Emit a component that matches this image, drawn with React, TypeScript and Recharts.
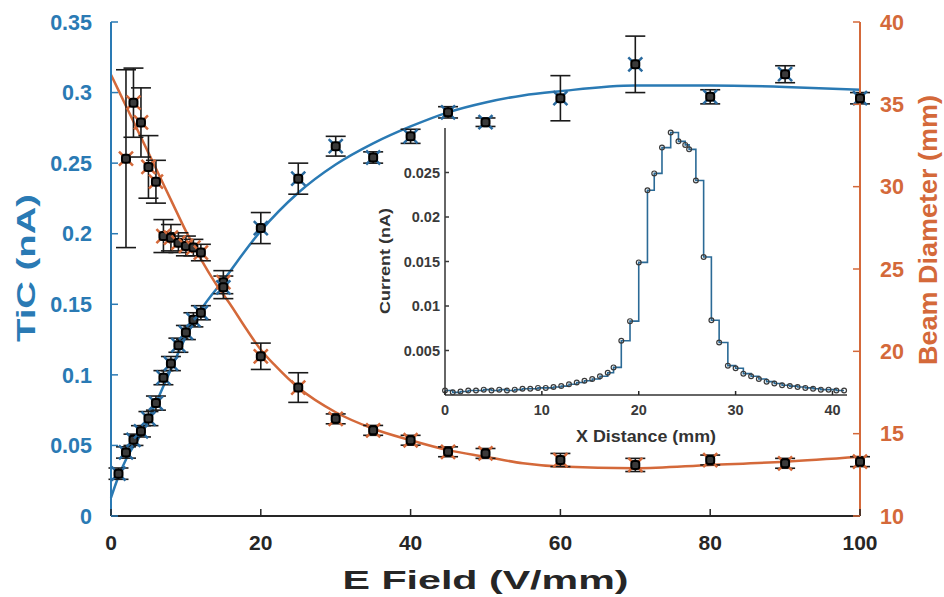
import { ComposedChart, ErrorBar, Line, Scatter, XAxis, YAxis } from "recharts";

const BLUE = "#2a7ab4";
const ORANGE = "#d4693a";
const INK = "#262626";
const FONT = '"Liberation Sans", Arial, sans-serif';

// main chart: TiC current vs E field (left axis)
const ticX = [1, 2, 3, 4, 5, 6, 7, 8, 9, 10, 11, 12, 15, 20, 25, 30, 35, 40, 45, 50, 60, 70, 80, 90, 100];
const ticVal = [0.03, 0.045, 0.054, 0.06, 0.069, 0.08, 0.098, 0.108, 0.121, 0.13, 0.139, 0.144, 0.162, 0.204, 0.239, 0.262, 0.254, 0.269, 0.286, 0.279, 0.296, 0.32, 0.297, 0.313, 0.296];
const ticErr = [0.004, 0.004, 0.004, 0.004, 0.005, 0.005, 0.005, 0.005, 0.005, 0.005, 0.005, 0.005, 0.008, 0.011, 0.011, 0.007, 0.004, 0.005, 0.004, 0.003, 0.016, 0.02, 0.005, 0.006, 0.004];
const ticFitX = [0, 1, 2, 4, 6, 8, 10, 12, 15, 20, 25, 30, 35, 40, 45, 50, 55, 60, 70, 80, 90, 100];
const ticFitVal = [0.013, 0.028, 0.04, 0.058, 0.08, 0.104, 0.127, 0.146, 0.167, 0.202, 0.229, 0.249, 0.264, 0.276, 0.286, 0.293, 0.298, 0.301, 0.305, 0.305, 0.304, 0.302];

// beam diameter vs E field (right axis)
const beamX = [2, 3, 4, 5, 6, 7, 8, 9, 10, 11, 12, 15, 20, 25, 30, 35, 40, 45, 50, 60, 70, 80, 90, 100];
const beamVal = [31.7, 35.1, 33.9, 31.2, 30.3, 27.0, 26.9, 26.6, 26.4, 26.3, 26.0, 24.2, 19.7, 17.8, 15.9, 15.2, 14.6, 13.9, 13.8, 13.4, 13.1, 13.4, 13.2, 13.3];
const beamErr = [5.4, 2.1, 2.1, 1.9, 1.3, 1.0, 0.8, 0.6, 0.6, 0.5, 0.5, 0.7, 0.8, 0.9, 0.3, 0.3, 0.3, 0.3, 0.3, 0.4, 0.4, 0.3, 0.3, 0.3];
const beamFitX = [0, 2, 4, 6, 8, 10, 12, 14, 16, 18, 20, 22, 25, 30, 35, 40, 45, 50, 55, 60, 70, 80, 90, 100];
const beamFitVal = [36.8, 34.9, 33.0, 31.1, 29.2, 27.3, 25.6, 24.1, 22.8, 21.4, 20.1, 19.1, 17.8, 16.3, 15.3, 14.6, 14.0, 13.6, 13.2, 13.0, 12.9, 13.1, 13.3, 13.6];

// inset: current profile along X
const profX = [0, 0.8, 1.6, 2.4, 3.2, 4.0, 4.8, 5.6, 6.4, 7.2, 8.0, 8.8, 9.6, 10.4, 11.2, 12.0, 12.8, 13.6, 14.4, 15.2, 16.0, 16.8, 17.4, 18.2, 19.1, 20.0, 20.9, 21.6, 22.4, 23.3, 24.1, 24.8, 25.2, 25.9, 26.7, 27.5, 28.3, 29.2, 30.0, 30.8, 31.6, 32.4, 33.2, 34.0, 34.8, 35.6, 36.4, 37.2, 38.0, 38.8, 39.6, 40.4, 41.2];
const profVal = [0.0005, 0.0003, 0.0004, 0.0005, 0.0005, 0.0006, 0.0005, 0.0006, 0.0005, 0.0006, 0.0007, 0.0007, 0.0008, 0.0008, 0.0009, 0.001, 0.0012, 0.0014, 0.0016, 0.0018, 0.0021, 0.0025, 0.0031, 0.0061, 0.0083, 0.0149, 0.023, 0.0249, 0.0278, 0.0295, 0.0285, 0.0281, 0.0276, 0.0241, 0.0155, 0.0084, 0.0059, 0.0033, 0.003, 0.0024, 0.0021, 0.0018, 0.0015, 0.0013, 0.0011, 0.001, 0.0009, 0.0008, 0.0007, 0.0006, 0.0006, 0.0005, 0.0005];

const xTicks = [0, 20, 40, 60, 80, 100];
const ticTicks = [0, 0.05, 0.1, 0.15, 0.2, 0.25, 0.3, 0.35];
const beamTicks = [10, 15, 20, 25, 30, 35, 40];
const profXTicks = [0, 10, 20, 30, 40];
const profYTicks = [0.005, 0.01, 0.015, 0.02, 0.025];

const zip = (xs: number[], ys: number[], es?: number[]) =>
  xs.map((x, i) => ({ x, y: ys[i], err: es ? es[i] : 0 }));

const ticData = zip(ticX, ticVal, ticErr);
const beamData = zip(beamX, beamVal, beamErr);
const ticFit = zip(ticFitX, ticFitVal);
const beamFit = zip(beamFitX, beamFitVal);
const profData = zip(profX, profVal);

function Mark({ cx, cy, color }: any) {
  if (cx == null || cy == null) return null;
  const s = 7;
  return (
    <g>
      <path
        d={`M${cx - s},${cy - s}L${cx + s},${cy + s}M${cx - s},${cy + s}L${cx + s},${cy - s}`}
        stroke={color}
        strokeWidth={2.5}
      />
      <rect x={cx - 4} y={cy - 4} width={8} height={8} rx={2.5} fill="#3a3a3a" stroke="#000" strokeWidth={2} />
    </g>
  );
}

// ticks drawn inward, MATLAB style
const makeTick =
  (side: "left" | "right" | "bottom", color: string, size: number, margin: number, len: number, drop = 1.35) =>
  (props: any) => {
    const { x, y, payload } = props;
    if (side === "left") {
      const ax = x + margin;
      return (
        <g>
          <line x1={ax} x2={ax + len} y1={y} y2={y} stroke={color} strokeWidth={1.5} />
          <text x={x} y={y} dy="0.36em" textAnchor="end" fill={color} fontSize={size} fontWeight="bold" fontFamily={FONT}>
            {payload.value}
          </text>
        </g>
      );
    }
    if (side === "right") {
      const ax = x - margin;
      return (
        <g>
          <line x1={ax} x2={ax - len} y1={y} y2={y} stroke={color} strokeWidth={1.5} />
          <text x={x} y={y} dy="0.36em" textAnchor="start" fill={color} fontSize={size} fontWeight="bold" fontFamily={FONT}>
            {payload.value}
          </text>
        </g>
      );
    }
    const ay = y - margin;
    return (
      <g>
        <line x1={x} x2={x} y1={ay} y2={ay - len} stroke={INK} strokeWidth={1.5} />
        <text x={x} y={ay + size * drop} textAnchor="middle" fill={color} fontSize={size} fontWeight="bold" fontFamily={FONT}>
          {payload.value}
        </text>
      </g>
    );
  };

const Title =
  (text: string, color: string, size: number, dx: number, cyAbs?: number, vertical = true, stretch?: number) =>
  (props: any) => {
    const vb = props.viewBox;
    const fit = stretch ? { textLength: stretch, lengthAdjust: "spacingAndGlyphs" } : {};
    if (!vertical) {
      const cx = vb.x + vb.width / 2;
      const cy = vb.y + dx;
      return (
        <text x={cx} y={cy} textAnchor="middle" fill={color} fontSize={size} fontWeight="bold" fontFamily={FONT} {...fit}>
          {text}
        </text>
      );
    }
    const cx = vb.x + dx;
    const cy = cyAbs ?? vb.y + vb.height / 2;
    return (
      <text
        x={cx}
        y={cy}
        transform={`rotate(-90 ${cx} ${cy})`}
        textAnchor="middle"
        dominantBaseline="central"
        fill={color}
        fontSize={size}
        fontWeight="bold"
        fontFamily={FONT}
        {...fit}
      >
        {text}
      </text>
    );
  };

function Inset() {
  return (
    <div style={{ position: "absolute", left: 360, top: 110 }}>
      <ComposedChart width={500} height={350} margin={{ top: 18, right: 13, bottom: 0, left: 0 }}>
        <XAxis
          type="number"
          dataKey="x"
          domain={[0, 41.5]}
          ticks={profXTicks}
          height={65}
          tickSize={0}
          tickMargin={6}
          tickLine={false}
          axisLine={{ stroke: "#333", strokeWidth: 1.5 }}
          tick={makeTick("bottom", "#3a3a3a", 14.5, 6, 4)}
          label={Title("X Distance (mm)", "#333", 16, 47, undefined, false, 140)}
        />
        <YAxis
          type="number"
          dataKey="y"
          domain={[0, 0.03]}
          ticks={profYTicks}
          width={85}
          tickSize={0}
          tickMargin={5}
          tickLine={false}
          axisLine={{ stroke: "#333", strokeWidth: 1.5 }}
          tick={makeTick("left", "#3a3a3a", 14.5, 5, 4)}
          label={Title("Current (nA)", "#333", 15.5, 24, 151, true, 106)}
        />
        <Line
          data={profData}
          dataKey="y"
          type="stepAfter"
          stroke="#2b6a96"
          strokeWidth={1.6}
          dot={(p: any) => (
            <circle key={p.index} cx={p.cx} cy={p.cy} r={2.4} fill="none" stroke="#3a3a3a" strokeWidth={1.2} />
          )}
          isAnimationActive={false}
        />
      </ComposedChart>
    </div>
  );
}

export default function App() {
  return (
    <div style={{ position: "absolute", left: 0, top: 0, width: 944, height: 597, background: "#fff" }}>
      <ComposedChart width={944} height={597} margin={{ top: 22, right: 0, bottom: 0, left: 0 }}>
        <XAxis
          type="number"
          dataKey="x"
          domain={[0, 100]}
          ticks={xTicks}
          height={81}
          tickSize={0}
          tickMargin={8}
          tickLine={false}
          axisLine={{ stroke: INK, strokeWidth: 2 }}
          tick={makeTick("bottom", INK, 21, 8, 7, 1.6)}
          label={Title("E Field (V/mm)", INK, 26, 73, undefined, false, 286)}
        />
        <YAxis
          yAxisId="tic"
          orientation="left"
          type="number"
          dataKey="y"
          domain={[0, 0.35]}
          ticks={ticTicks}
          width={111}
          tickSize={0}
          tickMargin={19}
          tickLine={false}
          axisLine={{ stroke: BLUE, strokeWidth: 2 }}
          tick={makeTick("left", BLUE, 21.5, 19, 7)}
          label={Title("TiC (nA)", BLUE, 26, 26, 268, true, 148)}
        />
        <YAxis
          yAxisId="beam"
          orientation="right"
          type="number"
          dataKey="y"
          domain={[10, 40]}
          ticks={beamTicks}
          width={84}
          tickSize={0}
          tickMargin={20}
          tickLine={false}
          axisLine={{ stroke: ORANGE, strokeWidth: 2 }}
          tick={makeTick("right", ORANGE, 21.5, 20, 7)}
          label={Title("Beam Diameter (mm)", ORANGE, 26, 68, 230, true, 270)}
        />
        <Line
          yAxisId="tic"
          data={ticFit}
          dataKey="y"
          type="monotone"
          stroke={BLUE}
          strokeWidth={2.5}
          dot={false}
          isAnimationActive={false}
        />
        <Line
          yAxisId="beam"
          data={beamFit}
          dataKey="y"
          type="monotone"
          stroke={ORANGE}
          strokeWidth={2.5}
          dot={false}
          isAnimationActive={false}
        />
        <Scatter
          yAxisId="beam"
          data={beamData}
          dataKey="y"
          shape={(p: any) => <Mark {...p} color={ORANGE} />}
          isAnimationActive={false}
        >
          <ErrorBar dataKey="err" direction="y" width={10} stroke="#1a1a1a" strokeWidth={1.6} />
        </Scatter>
        <Scatter
          yAxisId="tic"
          data={ticData}
          dataKey="y"
          shape={(p: any) => <Mark {...p} color="#2a6a9e" />}
          isAnimationActive={false}
        >
          <ErrorBar dataKey="err" direction="y" width={10} stroke="#1a1a1a" strokeWidth={1.6} />
        </Scatter>
      </ComposedChart>
      <Inset />
    </div>
  );
}
